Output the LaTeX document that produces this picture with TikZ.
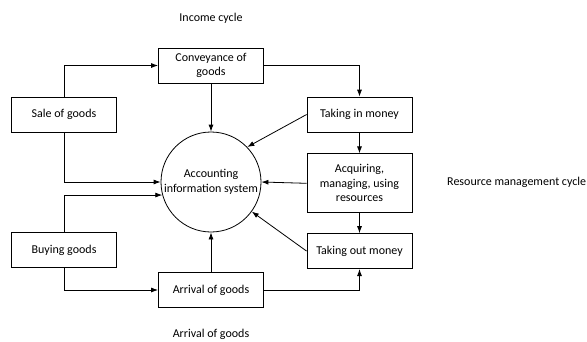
\documentclass[tikz,border=0pt]{standalone}
\usepackage{fontspec}
\setmainfont{Carlito}
\usetikzlibrary{positioning,arrows.meta}

\begin{document}
\begin{tikzpicture}[x=1pt, y=-1pt, font=\fontsize{12}{14.5}\selectfont,
    box/.style={draw, line width=0.8pt, minimum width=105pt, minimum height=35pt, align=center, inner sep=2pt},
    flow/.style={line width=0.8pt, -{Latex[length=7pt,width=5pt]}}]

    \useasboundingbox (0,0) rectangle (587,341);

    % boxes
    \node[box] (conv) at (211,65.5) {Conveyance of\\goods};
    \node[box] (sale) at (64,114.5) {Sale of goods};
    \node[box] (tin) at (359.5,114.5) {Taking in money};
    \node[box, minimum height=59pt, below=21pt of tin] (acq) {Acquiring,\\managing, using\\resources};
    \node[box, below=20pt of acq] (tout) {Taking out money};
    \node[box] (buy) at (64,250) {Buying goods};
    \node[box] (arr) at (211,290) {Arrival of goods};
    \node[circle, draw, line width=0.8pt, minimum size=100pt, inner sep=0pt, align=center] (ais) at (211,182) {Accounting\\information system};

    % cycle labels
    \node (inc) at (211,18) {Income cycle};
    \node[anchor=west, inner sep=1pt] (res) at (446,182) {Resource management cycle};
    \node (arrlbl) at (211,334) {Arrival of goods};

    % flows
    \draw[flow] (sale.north) |- (conv.west);
    \draw[flow] (conv.east) -| (tin.north);
    \draw[flow] (conv.south) -- (ais.north);
    \draw[flow] (tin.west) -- (ais.44);
    \draw[flow] (tin.south) -- (acq.north);
    \draw[flow] (acq.west) -- (ais.east);
    \draw[flow] (acq.south) -- (tout.north);
    \draw[flow] (tout.west) -- (ais.-36);
    \draw[flow] (sale.south) |- (ais.west);
    \draw[flow] (buy.north) |- (ais.195);
    \draw[flow] (buy.south) |- (arr.west);
    \draw[flow] (arr.east) -| (tout.south);
    \draw[flow] (arr.north) -- (ais.south);
\end{tikzpicture}
\end{document}
